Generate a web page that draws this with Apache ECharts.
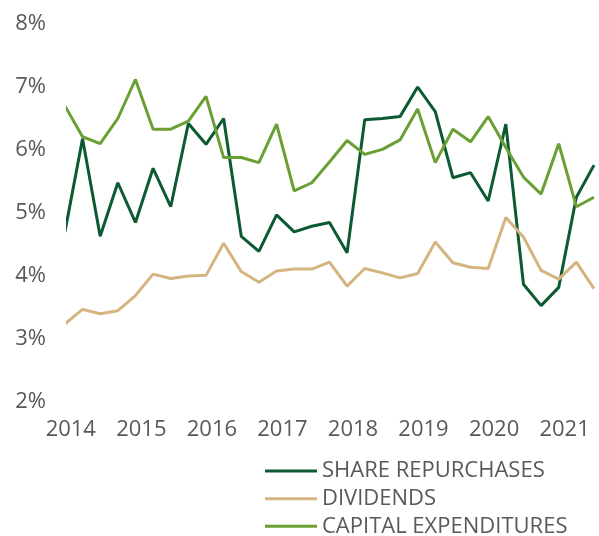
<!DOCTYPE html>
<html>
<head>
<meta charset="utf-8">
<script src="https://cdn.jsdelivr.net/npm/echarts@6/dist/echarts.min.js"></script>
<style>
html,body{margin:0;padding:0;background:#fff;}
#chart{width:599px;height:536px;}
</style>
</head>
<body>
<div id="chart"></div>
<script>
// Quarterly observation dates
const quarters = [
  '2013-12-01','2014-03-01','2014-06-01','2014-09-01',
  '2014-12-01','2015-03-01','2015-06-01','2015-09-01',
  '2015-12-01','2016-03-01','2016-06-01','2016-09-01',
  '2016-12-01','2017-03-01','2017-06-01','2017-09-01',
  '2017-12-01','2018-03-01','2018-06-01','2018-09-01',
  '2018-12-01','2019-03-01','2019-06-01','2019-09-01',
  '2019-12-01','2020-03-01','2020-06-01','2020-09-01',
  '2020-12-01','2021-03-01','2021-06-01'
];
const shareRepurchases = [
  4.70, 6.18, 4.63, 5.48, 4.85, 5.71, 5.10, 6.42,
  6.09, 6.50, 4.63, 4.39, 4.97, 4.70, 4.79, 4.85,
  4.37, 6.48, 6.50, 6.53, 7.00, 6.61, 5.56, 5.64,
  5.19, 6.41, 3.87, 3.53, 3.82, 5.25, 5.76
];
const dividends = [
  3.24, 3.47, 3.40, 3.45, 3.69, 4.03, 3.96, 4.00,
  4.01, 4.52, 4.07, 3.90, 4.08, 4.11, 4.11, 4.22,
  3.84, 4.12, 4.05, 3.97, 4.04, 4.54, 4.21, 4.14,
  4.12, 4.93, 4.62, 4.09, 3.95, 4.22, 3.80
];
const capitalExpenditures = [
  6.70, 6.21, 6.10, 6.50, 7.12, 6.33, 6.33, 6.46,
  6.85, 5.88, 5.88, 5.80, 6.41, 5.35, 5.48, 5.81,
  6.15, 5.93, 6.01, 6.16, 6.65, 5.80, 6.33, 6.13,
  6.53, 6.04, 5.57, 5.30, 6.10, 5.10, 5.25
];
const yearLabels = ['2014','2015','2016','2017','2018','2019','2020','2021'];
const seriesNames = ['SHARE REPURCHASES','DIVIDENDS','CAPITAL EXPENDITURES'];
const colors = ['#0B5A32','#D4B580','#6A9F34'];

const toYear = s => { const p = s.split('-').map(Number); return p[0] + (p[1]-1)/12 + (p[2]-1)/365; };
const yearVals = yearLabels.map(Number);
const pair = vals => quarters.map((q, i) => [toYear(q), vals[i]]);

const chart = echarts.init(document.getElementById('chart'), null, {renderer: 'canvas'});
const font = "'Open Sans', 'DejaVu Sans', sans-serif";
const legendTops = [460, 487.7, 515.3];
chart.setOption({
  animation: false,
  color: colors,
  grid: {left: 68, right: 5, top: 24, bottom: 134, containLabel: false},
  xAxis: {
    type: 'value',
    min: toYear('2013-12-17'),
    max: toYear('2021-06-01'),
    axisLine: {show: false},
    axisTick: {show: false},
    splitLine: {show: false},
    axisLabel: {
      customValues: yearVals,
      formatter: v => String(Math.round(v)),
      color: '#595959', fontSize: 22, fontFamily: font, margin: 17
    }
  },
  yAxis: {
    type: 'value',
    min: 2, max: 8, interval: 1,
    axisLine: {show: false},
    axisTick: {show: false},
    splitLine: {show: false},
    axisLabel: {formatter: '{value}%', color: '#595959', fontSize: 22, fontFamily: font, margin: 22}
  },
  legend: seriesNames.map((name, i) => ({
    orient: 'vertical',
    left: 265, top: legendTops[i],
    padding: 0,
    icon: 'rect',
    itemWidth: 52, itemHeight: 3,
    textStyle: {color: '#595959', fontSize: 22, fontFamily: font, lineHeight: 20},
    data: [name]
  })),
  series: [
    {name: seriesNames[0], type: 'line', data: pair(shareRepurchases), showSymbol: false, lineStyle: {width: 3}},
    {name: seriesNames[1], type: 'line', data: pair(dividends), showSymbol: false, lineStyle: {width: 3}},
    {name: seriesNames[2], type: 'line', data: pair(capitalExpenditures), showSymbol: false, lineStyle: {width: 3}}
  ]
});
</script>
</body>
</html>
